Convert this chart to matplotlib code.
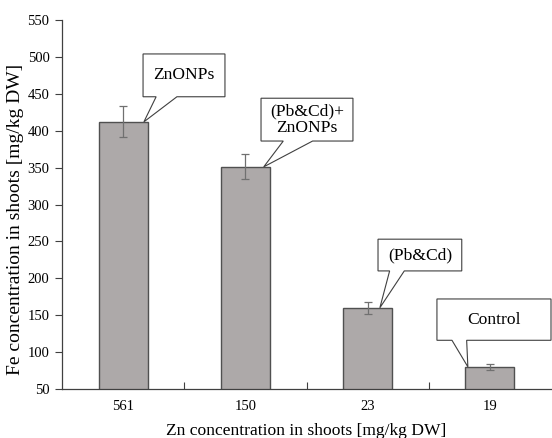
import matplotlib.pyplot as plt
from matplotlib.patches import Polygon
from matplotlib.ticker import FixedLocator, NullFormatter

plt.rcParams['font.family'] = ['Liberation Serif', 'DejaVu Serif']

zn_labels = ['561', '150', '23', '19']
fe_values = [412, 351, 160, 80]
fe_errors = [21, 17, 8, 4]
treatments = ['ZnONPs', '(Pb&Cd)+\nZnONPs', '(Pb&Cd)', 'Control']

# callout layout: box (x0, x1, y0, y1), wedge base x pair, tip x offset from bar centre
boxes = [(0.163, 0.833, 446, 504), (1.128, 1.88, 386, 444),
         (2.085, 2.77, 210, 253), (2.567, 3.5, 116, 172)]
bases = [(0.27, 0.44), (1.31, 1.55), (2.18, 2.30), (2.69, 2.81)]
tip_dx = [0.17, 0.15, 0.10, -0.18]

fig = plt.figure(figsize=(5.52, 4.38), dpi=100)
ax = fig.add_axes([62 / 552, 1 - 389 / 438, 489 / 552, 369 / 438])

x = list(range(len(zn_labels)))
ax.bar(x, fe_values, width=0.4, bottom=0, color='#ada9a9', edgecolor='#505050',
       linewidth=1.0, zorder=2)
ax.errorbar(x, fe_values, yerr=fe_errors, fmt='none', ecolor='#707070',
            elinewidth=0.9, capsize=3, capthick=0.9, zorder=3)

ax.set_xlim(-0.5, 3.5)
ax.set_ylim(50, 550)
ax.set_yticks(range(50, 551, 50))
ax.set_xticks(x)
ax.set_xticklabels(zn_labels, fontsize=10.5)
ax.tick_params(axis='x', which='major', length=0, pad=8)
ax.xaxis.set_minor_locator(FixedLocator([0.5, 1.5, 2.5]))
ax.xaxis.set_minor_formatter(NullFormatter())
ax.tick_params(axis='x', which='minor', direction='in', length=5, color='#404040', width=0.8)
ax.tick_params(axis='y', direction='out', length=5, color='#404040', width=0.8,
               labelsize=10.5, pad=4)

for s in ['top', 'right']:
    ax.spines[s].set_visible(False)
for s in ['left', 'bottom']:
    ax.spines[s].set_color('#404040')
    ax.spines[s].set_linewidth(0.9)

ax.set_xlabel('Zn concentration in shoots [mg/kg DW]', fontsize=12.6, va='center')
ax.xaxis.set_label_coords(0.5, -0.113)
ax.set_ylabel('Fe concentration in shoots [mg/kg DW]', fontsize=14, va='center')
ax.yaxis.set_label_coords(-0.096, 0.46)

for i, (lab, (bx0, bx1, by0, by1), (b1, b2), dx) in enumerate(zip(treatments, boxes, bases, tip_dx)):
    tip = (x[i] + dx, fe_values[i])
    pts = [(bx0, by1), (bx1, by1), (bx1, by0), (b2, by0), tip, (b1, by0), (bx0, by0)]
    poly = Polygon(pts, closed=True, facecolor='white', edgecolor='#404040',
                   linewidth=0.8, zorder=4, clip_on=False)
    ax.add_patch(poly)
    ax.text((bx0 + bx1) / 2, (by0 + by1) / 2, lab, ha='center', va='center',
            fontsize=12.6, zorder=5, linespacing=1.1)

fig.savefig('out.png', dpi=100)
